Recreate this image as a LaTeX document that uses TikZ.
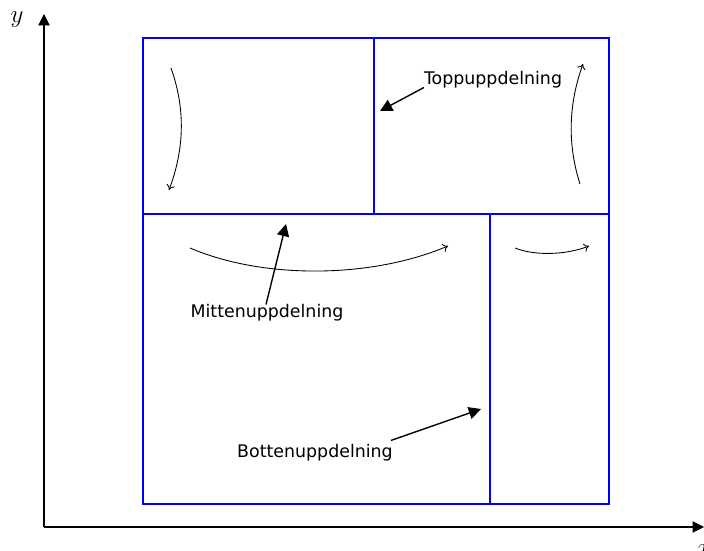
\documentclass[tikz,border=0pt]{standalone}
\usepackage{fontspec}
\setmainfont{DejaVu Sans}
\usetikzlibrary{arrows.meta}
\begin{document}
\begin{tikzpicture}[x=0.575pt,y=-0.575pt,
  region/.style={draw=blue,line width=0.7pt},
  axis/.style={draw=black,semithick,-{Triangle[length=6.5pt,width=6.5pt]}},
  flow/.style={draw=black,line width=0.5pt,-{To[length=3pt,width=5pt]}},
  pointer/.style={draw=black,thick,-{Triangle[length=7pt,width=7pt]}},
  caption/.style={inner sep=1pt,font=\normalsize},
  axislabel/.style={inner sep=1pt,font=\Large}]
\useasboundingbox (0,0) rectangle (704,551);

% axes
\coordinate (O) at (44,527);
\coordinate (ytop) at (44,14);
\coordinate (xend) at (704,527);
\draw[axis] (O) -- (ytop);
\draw[axis] (O) -- (xend);
\node[axislabel] (ylab) at (17,20) {$y$};
\node[axislabel,anchor=north] (xlab) at (704,543) {$x$};

% partitioned square
\coordinate (sw) at (143,504);
\coordinate (ne) at (609,38);
\coordinate (midL) at (143,214);
\coordinate (midR) at (609,214);
\coordinate (topT) at (374,38);
\coordinate (topB) at (374,214);
\coordinate (botT) at (490,214);
\coordinate (botB) at (490,504);
\draw[region] (sw) rectangle (ne);
\draw[region] (midL) -- (midR);
\draw[region] (topT) -- (topB);
\draw[region] (botT) -- (botB);

% sweep directions
\coordinate (a1) at (171,68);  \coordinate (a2) at (169,190);
\coordinate (b1) at (580,184); \coordinate (b2) at (583,64);
\coordinate (c1) at (190,248); \coordinate (c2) at (448,246);
\coordinate (d1) at (515,248); \coordinate (d2) at (589,246);
\draw[flow] (a1) .. controls (186,110) and (184,150) .. (a2);
\draw[flow] (b1) .. controls (566,140) and (570,100) .. (b2);
\draw[flow] (c1) .. controls (262,279) and (370,279) .. (c2);
\draw[flow] (d1) .. controls (535,256) and (566,255) .. (d2);

% labelled split lines
\node[caption] (top) at (493,80) {Toppuppdelning};
\node[caption] (mid) at (267,313) {Mittenuppdelning};
\node[caption] (bot) at (315,453) {Bottenuppdelning};
\coordinate (topTip) at (380,111);
\coordinate (midTip) at (286,224);
\coordinate (botTip) at (481,409);
\draw[pointer] (top.south west) ++(2,-3) -- (topTip);
\draw[pointer] (mid.north) ++(-1,2) -- (midTip);
\draw[pointer] (bot.north east) ++(-4,-2) -- (botTip);
\end{tikzpicture}
\end{document}
